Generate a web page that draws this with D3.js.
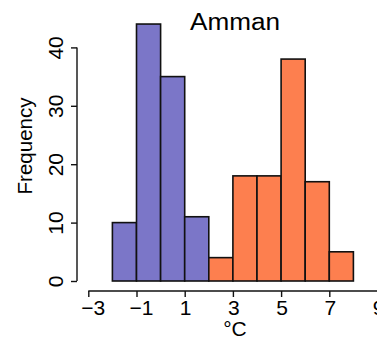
<!DOCTYPE html>
<html>
<head>
<meta charset="utf-8">
<script src="https://cdn.jsdelivr.net/npm/d3@7"></script>
<style>
  html, body { margin: 0; padding: 0; background: #fff; }
  svg { display: block; }
  text { font-family: "Liberation Sans", Arial, sans-serif; fill: #000; }
</style>
</head>
<body>
<svg id="chart" width="377" height="341"></svg>
<script>
// Histogram of temperatures, two groups (bins of 1 °C)
const coldBinStarts = [-2, -1, 0, 1];
const coldCounts    = [10, 44, 35, 11];
const warmBinStarts = [2, 3, 4, 5, 6, 7];
const warmCounts    = [4, 18, 18, 38, 17, 5];
const binWidth = 1;

const xTicks = [-3, -1, 1, 3, 5, 7, 9];
const yTicks = [0, 10, 20, 30, 40];

const title = "Amman";
const xTitle = "°C";
const yTitle = "Frequency";

const coldColor = "#7b76c8";
const warmColor = "#fd7f4f";

const svg = d3.select("#chart");

const x = d3.scaleLinear().domain([-3, 9]).range([88.3, 377.5]);
const y = d3.scaleLinear().domain([0, 40]).range([281, 47.4]);

function drawBars(starts, counts, color) {
  svg.append("g")
    .selectAll("rect")
    .data(starts.map((s, i) => ({ s, c: counts[i] })))
    .join("rect")
    .attr("x", d => x(d.s))
    .attr("y", d => y(d.c))
    .attr("width", d => x(d.s + binWidth) - x(d.s))
    .attr("height", d => y(0) - y(d.c))
    .attr("fill", color)
    .attr("stroke", "#111")
    .attr("stroke-width", 1.6);
}
drawBars(coldBinStarts, coldCounts, coldColor);
drawBars(warmBinStarts, warmCounts, warmColor);

// x axis, offset below the bars
const xAxis = svg.append("g")
  .attr("transform", "translate(0,291)")
  .call(d3.axisBottom(x).tickValues(xTicks).tickSize(6).tickSizeOuter(0)
    .tickFormat(d => d < 0 ? "\u2212" + Math.abs(d) : d));
xAxis.select(".domain").attr("d", `M${x(-3)},0H${x(9)}`).attr("stroke", "#111").attr("stroke-width", 1.4);
xAxis.selectAll(".tick line").attr("stroke", "#111").attr("stroke-width", 1.4);
xAxis.selectAll(".tick text").attr("font-size", 21).attr("dy", "0.71em").attr("y", 9)
  .attr("x", d => d < 0 ? 4.5 : 0.5)
  .attr("font-family", "Liberation Sans, Arial, sans-serif");

// y axis, offset left of the bars, labels rotated
const yAxis = svg.append("g")
  .attr("transform", "translate(77,0)")
  .call(d3.axisLeft(y).tickValues(yTicks).tickSize(6).tickSizeOuter(0));
yAxis.select(".domain").attr("d", `M0,${y(0)}V${y(40)}`).attr("stroke", "#111").attr("stroke-width", 1.4);
yAxis.selectAll(".tick line").attr("stroke", "#111").attr("stroke-width", 1.4);
yAxis.selectAll(".tick text")
  .attr("font-size", 21)
  .attr("font-family", "Liberation Sans, Arial, sans-serif")
  .attr("x", null).attr("dy", null)
  .attr("text-anchor", "middle")
  .attr("transform", "translate(-14,0) rotate(-90)");

svg.append("text")
  .attr("x", 190).attr("y", 29.5)
  .attr("font-size", 23)
  .attr("textLength", 90)
  .attr("lengthAdjust", "spacingAndGlyphs")
  .text(title);

svg.append("text")
  .attr("x", 235).attr("y", 336)
  .attr("text-anchor", "middle")
  .attr("font-size", 21)
  .text(xTitle);

svg.append("text")
  .attr("transform", "translate(32,146) rotate(-90)")
  .attr("text-anchor", "middle")
  .attr("font-size", 20.5)
  .text(yTitle);
</script>
</body>
</html>
